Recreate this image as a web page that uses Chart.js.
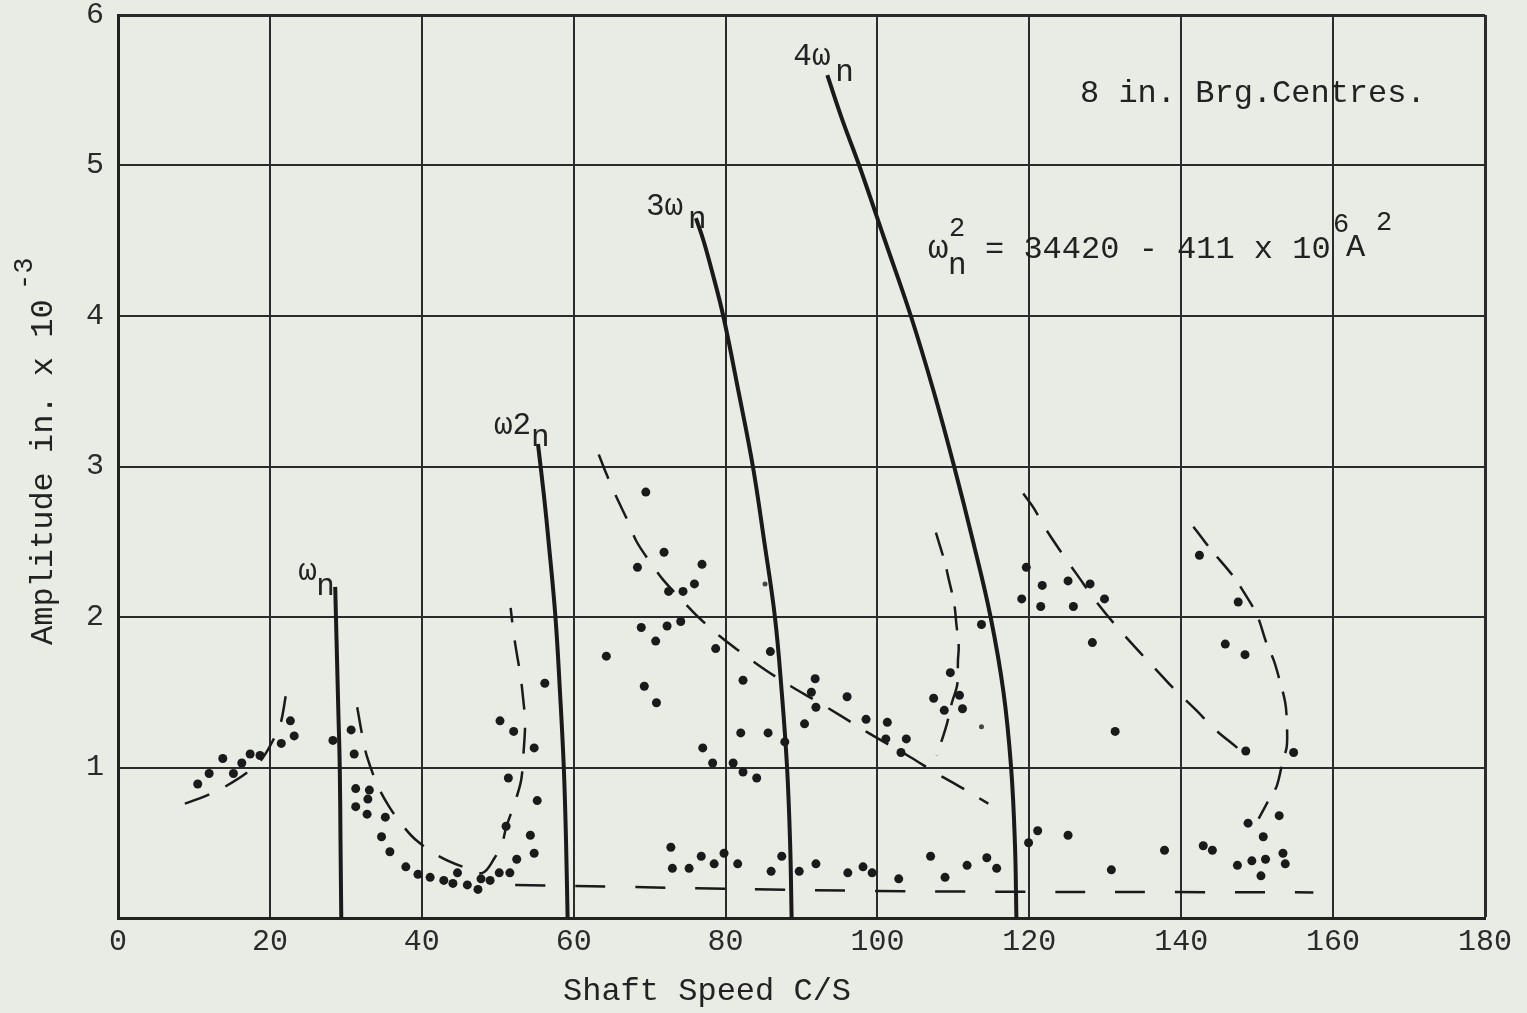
<!DOCTYPE html>
<html>
<head>
<meta charset="utf-8">
<script src="https://cdn.jsdelivr.net/npm/chart.js@4.4.1/dist/chart.umd.min.js"></script>
<style>
  body { margin: 0; background: #e8ece4; }
  canvas { display: block; }
</style>
</head>
<body>
<canvas id="ShaftChart" width="1527" height="1013"></canvas>
<script>
// axis ticks
const speedTicks = [0, 20, 40, 60, 80, 100, 120, 140, 160, 180];
const ampTicks = [0, 1, 2, 3, 4, 5, 6];

// measured amplitudes (dots)
const dotSpeed = [10.5, 12.0, 13.8, 15.2, 16.3, 17.4, 18.7, 21.5, 23.2, 22.7, 28.3,
  30.7, 31.1, 31.3, 33.1, 32.9, 31.3, 32.8, 35.2, 34.7, 35.8, 37.9, 39.5, 41.1, 42.9, 44.1, 44.7, 46.0, 47.4, 47.8, 49.0, 50.2, 51.6, 52.5, 54.8, 54.3, 51.1, 55.2, 51.4, 54.8, 52.1, 50.3, 56.2,
  69.5, 71.9, 68.4, 76.9, 75.9, 72.5, 74.4, 68.9, 72.3, 74.1, 70.8, 78.7, 64.3, 85.9, 82.3, 69.3, 70.9, 82.0, 85.6, 77.0, 78.3, 81.0, 82.3, 84.1, 87.8, 91.8, 91.3, 91.9, 90.4,
  72.8, 76.8, 79.8, 73.0, 75.2, 78.5, 81.6, 87.4, 86.0, 89.7, 91.9,
  113.7, 96.0, 98.5, 101.3, 101.1, 103.8, 103.1, 109.6, 107.4, 110.8, 108.8, 111.2,
  96.1, 98.1, 99.3, 102.8, 107.0, 108.9, 111.8, 114.4, 115.7, 119.9, 121.1,
  119.6, 119.0, 121.7, 121.5, 125.1, 128.0, 129.9, 125.8, 128.3, 131.3, 142.4, 147.5, 145.8, 148.4, 148.5, 154.8,
  125.1, 137.8, 130.8, 142.9, 144.1, 148.8, 152.9, 150.8, 153.4, 147.4, 149.3, 151.1, 153.7, 150.5];
const dotAmp = [0.89, 0.96, 1.06, 0.96, 1.03, 1.09, 1.08, 1.16, 1.21, 1.31, 1.18,
  1.25, 1.09, 0.86, 0.85, 0.79, 0.74, 0.69, 0.67, 0.54, 0.44, 0.34, 0.29, 0.27, 0.25, 0.23, 0.30, 0.22, 0.19, 0.26, 0.25, 0.30, 0.30, 0.39, 0.43, 0.55, 0.61, 0.78, 0.93, 1.13, 1.24, 1.31, 1.56,
  2.83, 2.43, 2.33, 2.35, 2.22, 2.17, 2.17, 1.93, 1.94, 1.97, 1.84, 1.79, 1.74, 1.77, 1.58, 1.54, 1.43, 1.23, 1.23, 1.13, 1.03, 1.03, 0.97, 0.93, 1.17, 1.59, 1.50, 1.40, 1.29,
  0.47, 0.41, 0.43, 0.33, 0.33, 0.36, 0.36, 0.41, 0.31, 0.31, 0.36,
  1.95, 1.47, 1.32, 1.30, 1.19, 1.19, 1.10, 1.63, 1.46, 1.48, 1.38, 1.39,
  0.30, 0.34, 0.30, 0.26, 0.41, 0.27, 0.35, 0.40, 0.33, 0.50, 0.58,
  2.33, 2.12, 2.21, 2.07, 2.24, 2.22, 2.12, 2.07, 1.83, 1.24, 2.41, 2.10, 1.82, 1.75, 1.11, 1.10,
  0.55, 0.45, 0.32, 0.48, 0.45, 0.63, 0.68, 0.54, 0.43, 0.35, 0.38, 0.39, 0.36, 0.28];
const faintSpeed = [85.2, 113.7];
const faintAmp = [2.22, 1.27];

// natural frequency backbone curves (solid)
const wn1Speed = [28.6, 28.8, 29.0, 29.2, 29.3, 29.4];
const wn1Amp = [2.2, 1.8, 1.4, 1.0, 0.5, 0];
const wn2Speed = [55.3, 56.1, 56.7, 57.6, 58.2, 58.7, 59.0, 59.2];
const wn2Amp = [3.15, 2.8, 2.5, 2.0, 1.5, 1.0, 0.5, 0];
const wn3Speed = [76.1, 77.1, 78.2, 79.7, 81.7, 83.6, 85.1, 86.5, 87.4, 88.1, 88.5, 88.7];
const wn3Amp = [4.65, 4.5, 4.3, 4.0, 3.5, 3.0, 2.5, 2.0, 1.5, 1.0, 0.5, 0];
const wn4Speed = [93.4, 95.4, 97.6, 101.0, 104.4, 107.4, 110.1, 112.6, 114.9, 116.6, 117.6, 118.1, 118.3];
const wn4Amp = [5.6, 5.3, 5.0, 4.5, 4.0, 3.5, 3.0, 2.5, 2.0, 1.5, 1.0, 0.5, 0];

// response curves (dashed)
const respASpeed = [8.8, 11.5, 14.0, 17.1, 19.0, 20.9, 21.5, 22.1];
const respAAmp = [0.76, 0.81, 0.87, 0.97, 1.06, 1.23, 1.31, 1.48];
const respBSpeed = [31.5, 32.1, 32.8, 34.2, 35.7, 37.4, 39.2, 42.3, 45.4, 48.0, 49.6, 50.6, 51.1, 52.4, 53.1, 53.4, 53.6, 53.3, 53.0, 52.5, 52.1, 51.7];
const respBAmp = [1.40, 1.23, 1.07, 0.88, 0.74, 0.62, 0.52, 0.41, 0.34, 0.30, 0.40, 0.50, 0.60, 0.79, 0.92, 1.10, 1.30, 1.48, 1.61, 1.76, 1.89, 2.06];
const respCSpeed = [63.3, 64.4, 65.6, 67.2, 68.3, 70.0, 71.9, 74.3, 76.4, 79.3, 81.9, 85.2, 88.6, 92.0, 95.3, 98.8, 104.3, 107.8, 110.6, 114.6];
const respCAmp = [3.08, 2.94, 2.80, 2.63, 2.50, 2.37, 2.24, 2.11, 2.00, 1.87, 1.77, 1.65, 1.54, 1.44, 1.34, 1.23, 1.07, 0.96, 0.88, 0.76];
const respDSpeed = [107.7, 108.9, 109.3, 110.1, 110.4, 110.7, 110.6, 110.5, 109.8, 109.2, 108.6, 107.8];
const respDAmp = [2.56, 2.36, 2.27, 2.09, 1.95, 1.81, 1.71, 1.55, 1.43, 1.30, 1.20, 1.08];
const respESpeed = [119.2, 120.5, 122.1, 124.2, 126.3, 129.0, 132.3, 137.6, 138.9, 142.0, 144.3, 147.4];
const respEAmp = [2.82, 2.73, 2.59, 2.43, 2.28, 2.09, 1.89, 1.60, 1.53, 1.38, 1.26, 1.13];
const respFSpeed = [141.6, 143.1, 144.2, 146.7, 148.3, 150.0, 151.2, 152.2, 152.9, 153.7, 153.9, 153.9, 153.4, 152.6, 151.7, 150.2];
const respFAmp = [2.60, 2.50, 2.43, 2.28, 2.16, 2.01, 1.83, 1.71, 1.59, 1.43, 1.30, 1.14, 1.05, 0.88, 0.80, 0.66];
const baseSpeed = [52.3, 100, 157.4];
const baseAmp = [0.22, 0.18, 0.17];

const ink = '#1a1a1a';
const paper = '#e8ece4';
const typeFont = '"Liberation Mono", "DejaVu Sans Mono", monospace';

const pts = (xs, ys) => xs.map((x, i) => ({ x: x, y: ys[i] }));

const solid = (xs, ys) => ({
  data: pts(xs, ys), showLine: true, borderColor: ink, borderWidth: 4,
  pointRadius: 0, tension: 0.4
});
const dashed = (xs, ys, dash) => ({
  data: pts(xs, ys), showLine: true, borderColor: ink, borderWidth: 2.5,
  borderDash: dash || [26, 18], pointRadius: 0, tension: 0.35
});

// paper background
const paperPlugin = {
  id: 'paper',
  beforeDraw(chart) {
    const c = chart.ctx;
    c.save();
    c.fillStyle = paper;
    c.fillRect(0, 0, chart.width, chart.height);
    c.restore();
  }
};

function put(c, txt, x, y, size) {
  c.font = size + 'px ' + typeFont;
  c.fillText(txt, x, y);
}

// typed labels on the sheet
const notesPlugin = {
  id: 'notes',
  afterDraw(chart) {
    const c = chart.ctx;
    const sx = chart.scales.x, sy = chart.scales.y;
    c.save();
    c.fillStyle = '#222';
    c.textBaseline = 'alphabetic';
    c.textAlign = 'left';

    // labels at top of each backbone curve
    const tops = [
      [wn1Speed[0], wn1Amp[0], 'ω', -37, -7, -19, 8],
      [wn2Speed[0], wn2Amp[0], 'ω2', -44, -10, -7, 2],
      [wn3Speed[0], wn3Amp[0], '3ω', -50, -3, -8, 10],
      [wn4Speed[0], wn4Amp[0], '4ω', -34, -10, 8, 6]
    ];
    tops.forEach(t => {
      const px = sx.getPixelForValue(t[0]), py = sy.getPixelForValue(t[1]);
      put(c, t[2], px + t[3], py + t[4], 31);
      put(c, 'n', px + t[5], py + t[6], 31);
    });

    put(c, '8 in. Brg.Centres.', 1080, 102, 32);

    // equation
    put(c, 'ω', 928, 258, 34);
    put(c, '2', 949, 236, 27);
    put(c, 'n', 948, 274, 31);
    put(c, '= 34420 - 411 x 10', 985, 258, 32);
    put(c, '6', 1333, 232, 27);
    put(c, 'A', 1346, 256, 32);
    put(c, '2', 1376, 230, 27);

    // axis titles
    put(c, 'Shaft Speed C/S', 563, 1000, 32);
    c.translate(52, 645);
    c.rotate(-Math.PI / 2);
    put(c, 'Amplitude in. x 10', 0, 0, 32);
    put(c, '-3', 355, -20, 27);
    c.restore();
  }
};

const ctx = document.getElementById('ShaftChart').getContext('2d');
new Chart(ctx, {
  type: 'scatter',
  data: {
    datasets: [
      dashed(respASpeed, respAAmp),
      dashed(respBSpeed, respBAmp),
      dashed(respCSpeed, respCAmp),
      dashed(respDSpeed, respDAmp, [24, 14]),
      dashed(respESpeed, respEAmp),
      dashed(respFSpeed, respFAmp, [24, 14]),
      dashed(baseSpeed, baseAmp, [30, 30]),
      solid(wn1Speed, wn1Amp),
      solid(wn2Speed, wn2Amp),
      solid(wn3Speed, wn3Amp),
      solid(wn4Speed, wn4Amp),
      { data: pts(dotSpeed, dotAmp), pointRadius: 4.5, pointBackgroundColor: ink, pointBorderWidth: 0 },
      { data: pts(faintSpeed, faintAmp), pointRadius: 2.5, pointBackgroundColor: '#444', pointBorderWidth: 0 }
    ]
  },
  options: {
    responsive: false,
    devicePixelRatio: 1,
    animation: false,
    layout: { autoPadding: false, padding: { left: 0, top: 15, right: 42, bottom: 0 } },
    plugins: { legend: { display: false }, tooltip: { enabled: false } },
    scales: {
      x: {
        type: 'linear', min: 0, max: 180,
        afterFit: s => { s.height = 95; s.paddingLeft = 0; s.paddingRight = 0; },
        afterBuildTicks: s => { s.ticks = speedTicks.map(v => ({ value: v })); },
        ticks: { color: '#2a2a2a', font: { family: typeFont, size: 30 }, padding: 6 },
        grid: { color: '#2b2b2b', lineWidth: c => (c.tick && c.tick.value === 180 ? 3 : 2), drawTicks: false },
        border: { color: '#222', width: 3 }
      },
      y: {
        type: 'linear', min: 0, max: 6,
        afterFit: s => { s.width = 118; s.paddingTop = 0; s.paddingBottom = 0; },
        afterBuildTicks: s => { s.ticks = ampTicks.map(v => ({ value: v })); },
        ticks: { color: '#2a2a2a', font: { family: typeFont, size: 30, lineHeight: 1.0 }, padding: 14,
          callback: v => (v === 0 ? '' : String(v)) },
        grid: { color: '#2b2b2b', lineWidth: c => (c.tick && c.tick.value === 6 ? 3 : 2), drawTicks: false },
        border: { color: '#222', width: 3 }
      }
    }
  },
  plugins: [paperPlugin, notesPlugin]
});
</script>
</body>
</html>
